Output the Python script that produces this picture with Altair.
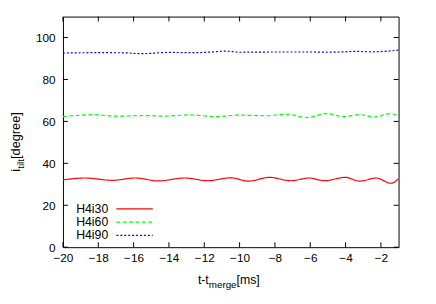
import altair as alt
import pandas as pd

FONT = "Liberation Sans"

# ---- data ----
series_names = ["H4i30", "H4i60", "H4i90"]
series_colors = ["#ff0000", "#00ff00", "#0000ff"]
series_dashes = [[1, 0], [4, 2.5], [2, 2]]

t30 = [-20, -18.74, -17.2, -15.9, -14.6, -13.1, -11.8, -10.5, -9.5, -8.3, -7.1,
       -6.05, -5.2, -4.0, -3.2, -2.26, -1.43, -1.0]
v30 = [32.1, 33.0, 31.9, 33.0, 31.6, 33.0, 31.7, 33.1, 31.5, 33.3, 31.7,
       33.0, 31.7, 33.3, 31.5, 33.0, 30.5, 32.7]

t60 = [-20, -18.2, -16.9, -15.4, -14.3, -12.8, -11.3, -10.2, -8.55, -7.3, -6.2,
       -5.1, -4.1, -3.2, -2.35, -1.5, -1.0]
v60 = [62.3, 63.2, 62.5, 62.8, 62.5, 63.1, 62.3, 63.0, 62.7, 63.4, 61.8,
       63.7, 62.3, 63.2, 62.1, 63.7, 62.6]

t90 = [-20, -18, -16.5, -15.6, -14, -12.5, -11.8, -10.8, -10, -8, -6,
       -5, -4, -3.5, -2.5, -1.5, -1]
v90 = [92.6, 92.8, 92.7, 92.3, 92.9, 92.8, 93.0, 93.5, 93.0, 93.1, 93.1,
       93.0, 93.2, 93.4, 93.2, 93.6, 94.0]

x_ticks = [-20, -18, -16, -14, -12, -10, -8, -6, -4, -2]
y_ticks = [0, 20, 40, 60, 80, 100]

# ---- build table ----
rows = []
for name, ts, vs in [("H4i30", t30, v30), ("H4i60", t60, v60), ("H4i90", t90, v90)]:
    for t, v in zip(ts, vs):
        rows.append({"t": t, "v": v, "series": name})
df = pd.DataFrame(rows)

W, H = 342, 235
TICK = 5
xs = alt.Scale(domain=[-20, -1], nice=False, zero=False)
ys = alt.Scale(domain=[0, 110], nice=False, zero=False)
x_axis = alt.Axis(values=x_ticks, title=None, ticks=False, domain=False, grid=False,
                  labelPadding=6, labelFlush=False)
y_axis = alt.Axis(values=y_ticks, title=None, ticks=False, domain=False, grid=False,
                  labelPadding=8)
one = pd.DataFrame({"k": [0]})

lines = alt.Chart(df).mark_line(interpolate="monotone", strokeWidth=1.2, clip=True).encode(
    x=alt.X("t:Q", scale=xs, axis=x_axis),
    y=alt.Y("v:Q", scale=ys, axis=y_axis),
    color=alt.Color("series:N", scale=alt.Scale(domain=series_names, range=series_colors), legend=None),
    strokeDash=alt.StrokeDash("series:N", scale=alt.Scale(domain=series_names, range=series_dashes), legend=None),
)

# inward (gnuplot style) ticks on all four sides
xt_df = pd.DataFrame({"t": x_ticks})
yt_df = pd.DataFrame({"v": y_ticks})
tick_layers = [
    alt.Chart(xt_df).mark_rule(color="black", strokeWidth=1).encode(
        x=alt.X("t:Q", scale=xs, axis=x_axis), y=alt.value(H), y2=alt.value(H - TICK)),
    alt.Chart(xt_df).mark_rule(color="black", strokeWidth=1).encode(
        x=alt.X("t:Q", scale=xs, axis=x_axis), y=alt.value(0), y2=alt.value(TICK)),
    alt.Chart(yt_df).mark_rule(color="black", strokeWidth=1).encode(
        y=alt.Y("v:Q", scale=ys, axis=y_axis), x=alt.value(0), x2=alt.value(TICK)),
    alt.Chart(yt_df).mark_rule(color="black", strokeWidth=1).encode(
        y=alt.Y("v:Q", scale=ys, axis=y_axis), x=alt.value(W), x2=alt.value(W - TICK)),
]

# legend (label left, sample right)
legend_layers = []
for i, (name, col, dash) in enumerate(zip(series_names, series_colors, series_dashes)):
    yy = 196 + 13.5 * i
    legend_layers.append(
        alt.Chart(one).mark_text(align="left", baseline="middle", font=FONT, fontSize=12.5,
                                 color="black", text=name).encode(x=alt.value(13.5), y=alt.value(yy)))
    legend_layers.append(
        alt.Chart(one).mark_rule(color=col, strokeWidth=1.2, strokeDash=dash).encode(
            x=alt.value(54.5), x2=alt.value(91.5), y=alt.value(yy)))


def txt(s, x, y, size, angle=0):
    kw = dict(align="left", baseline="alphabetic", font=FONT, fontSize=size, color="black", text=s)
    if angle:
        kw["angle"] = angle
    return alt.Chart(one).mark_text(**kw).encode(x=alt.value(x), y=alt.value(y))


# y title: i_{tilt}[degree], rotated
YF, YS = 13, 10
yx = -43.5
y0 = 158
y_title = [
    txt("i", yx, y0, YF, 270),
    txt("tilt", yx + 3.5, y0 - 0.222 * YF, YS, 270),
    txt("[degree]", yx, y0 - 0.222 * YF - 1.0 * YS, YF, 270),
]

# x title: t-t_{merge}[ms]
XF, XS = 12.5, 10
x0 = 137.5
xb = 272.7
x_title = [
    txt("t-t", x0, xb, XF),
    txt("merge", x0 + 0.889 * XF, xb + 3.5, XS),
    txt("[ms]", x0 + 0.889 * XF + 2.834 * XS, xb, XF),
]

chart = alt.layer(lines, *tick_layers, *legend_layers, *y_title, *x_title).properties(
    width=W, height=H,
    autosize=alt.AutoSizeParams(type="none"),
    padding={"left": 56, "top": 6, "right": 30, "bottom": 47},
).configure_view(stroke="black", strokeWidth=1).configure_axis(
    labelFont=FONT, labelFontSize=12, labelColor="black"
)

chart.save("out.html", embed_options={"renderer": "svg", "actions": False})
